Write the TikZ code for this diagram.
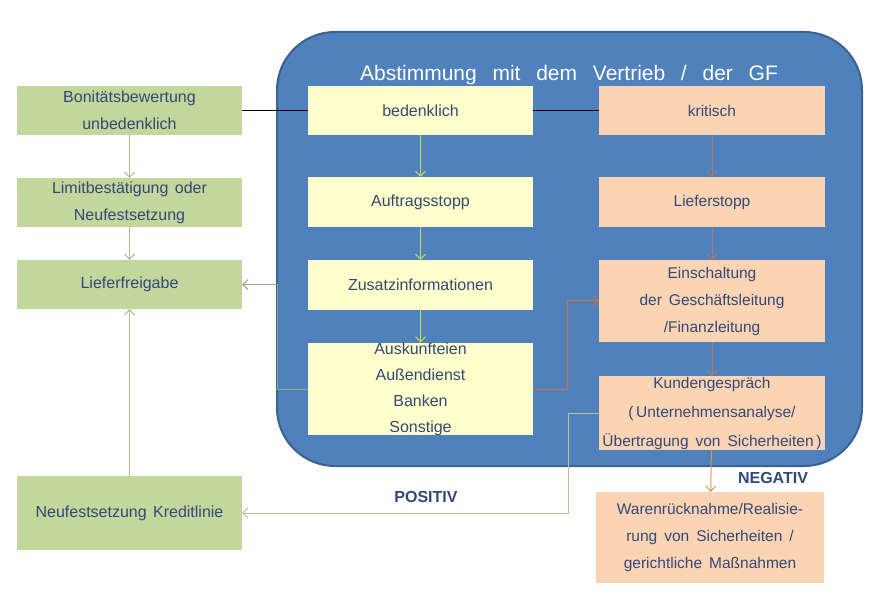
\documentclass[tikz,border=0pt]{standalone}
\usepackage{fontspec}
\setmainfont{Liberation Sans}
\usepackage{tikz}
\usetikzlibrary{positioning}
\usetikzlibrary{arrows.meta}
\usetikzlibrary{calc}

\definecolor{panel}{RGB}{79,129,189}
\definecolor{paneledge}{RGB}{58,98,146}
\definecolor{okgreen}{RGB}{195,214,155}
\definecolor{warnyellow}{RGB}{255,255,204}
\definecolor{critpeach}{RGB}{251,212,180}
\definecolor{txtblue}{RGB}{50,72,120}
\definecolor{lineolive}{RGB}{185,182,140}
\definecolor{linegreen}{RGB}{150,172,125}
\definecolor{lineyellow}{RGB}{200,215,80}
\definecolor{linebrown}{RGB}{175,122,98}
\definecolor{lineorange}{RGB}{205,112,62}
\definecolor{linetan}{RGB}{196,189,151}
\definecolor{linelight}{RGB}{215,150,80}

\newcommand{\widespace}[1]{\spaceskip=#1 plus 0.1em\relax}

\begin{document}
\begin{tikzpicture}[x=1pt, y=-1pt,
  box/.style={inner sep=0pt, align=center, text=txtblue,
              font=\fontsize{16}{27}\selectfont\widespace{0.4em}},
  okbox/.style={box, fill=okgreen, minimum width=225pt, minimum height=49pt},
  warnbox/.style={box, fill=warnyellow, minimum width=225pt, minimum height=50pt},
  critbox/.style={box, fill=critpeach, minimum width=226pt, minimum height=50pt,
              font=\fontsize{15.5}{27}\selectfont\widespace{0.45em}},
  arr/.style={-{Straight Barb[length=5pt,width=10pt]}, line width=1pt},
  tag/.style={text=txtblue, font=\fontsize{16}{16}\selectfont\bfseries}]

\useasboundingbox (0,0) rectangle (886,612);

%---------------------------------------
% Panel: Abstimmung
%---------------------------------------
\def\Lx{129.5}
\def\Mx{420.5}
\def\Rx{712}

\draw[fill=panel, draw=paneledge, line width=2pt, rounded corners=58pt]
  (277,32) rectangle (862,466);
\node[text=white, font=\fontsize{21}{21}\selectfont\widespace{0.75em}]
  (title) at (569,75) {Abstimmung mit dem Vertrieb / der GF};

%---------------------------------------
% Left column (green)
%---------------------------------------
\node[okbox] (bon) at (\Lx,110.5) {Bonitätsbewertung\\unbedenklich};
\node[okbox] (lim) at (\Lx,202.5) {Limitbestätigung oder\\Neufestsetzung};
\node[okbox] (lfg) at (\Lx,284.5) {Lieferfreigabe};
\node[okbox, minimum height=74pt] (nkl) at (\Lx,513) {Neufestsetzung Kreditlinie};

%---------------------------------------
% Middle column (yellow)
%---------------------------------------
\node[warnbox, minimum height=49pt] (bed) at (\Mx,110.5) {bedenklich};
\node[warnbox] (stopA) at (\Mx,202) {Auftragsstopp};
\node[warnbox] (zus) at (\Mx,285) {Zusatzinformationen};
\node[warnbox, minimum height=92pt, font=\fontsize{16}{26}\selectfont]
  (ausk) at (\Mx,389) {Auskunfteien\\Außendienst\\Banken\\Sonstige};

%---------------------------------------
% Right column (peach)
%---------------------------------------
\node[critbox, minimum height=49pt] (krit) at (\Rx,110.5) {kritisch};
\node[critbox] (stopL) at (\Rx,202) {Lieferstopp};
\node[critbox, minimum height=82pt] (ein) at (\Rx,301)
  {Einschaltung\\der Geschäftsleitung\\/Finanzleitung};
\node[critbox, minimum height=74pt, font=\fontsize{15.5}{29}\selectfont\widespace{0.45em}]
  (kun) at (\Rx,413)
  {Kundengespräch\\(\,Unternehmensanalyse/\\Übertragung von Sicherheiten\,)};
\node[critbox, minimum width=228pt, minimum height=91pt] (war) at (710,537.5)
  {Warenrücknahme/Realisie-\\rung von Sicherheiten /\\gerichtliche Maßnahmen};

%---------------------------------------
% Connectors
%---------------------------------------
\draw[line width=1.2pt] (bon.east) -- (bed.west);
\draw[line width=1.2pt] (bed.east) -- (krit.west);

\draw[arr, lineolive] (bon) -- (lim);
\draw[arr, lineolive] (lim) -- (lfg);
\draw[arr, lineolive] (nkl) -- (lfg);

\draw[arr, lineyellow] (bed) -- (stopA);
\draw[arr, lineyellow] (stopA) -- (zus);
\draw[arr, lineyellow] (zus) -- (ausk);

\draw[arr, linebrown] (krit) -- (stopL);
\draw[arr, linebrown] (stopL) -- (ein);
\draw[arr, linebrown] (ein) -- (kun);

% back to Lieferfreigabe
\coordinate (bendA) at (277,389);
\draw[arr, linegreen] (ausk.west) -- (bendA) |- (lfg.east);

% to Geschaeftsleitung
\coordinate (bendB) at (567,389);
\draw[arr, lineorange] (ausk.east) -- (bendB) |- (ein.west);

% POSITIV
\coordinate (bendC) at (568,413);
\draw[arr, linetan] (kun.west) -- (bendC) |- (nkl.east);
\node[tag] (pos) at (426,497) {POSITIV};

% NEGATIV
\draw[arr, linelight] (kun) -- (war);
\node[tag] (neg) at (773,478) {NEGATIV};

\end{tikzpicture}
\end{document}
